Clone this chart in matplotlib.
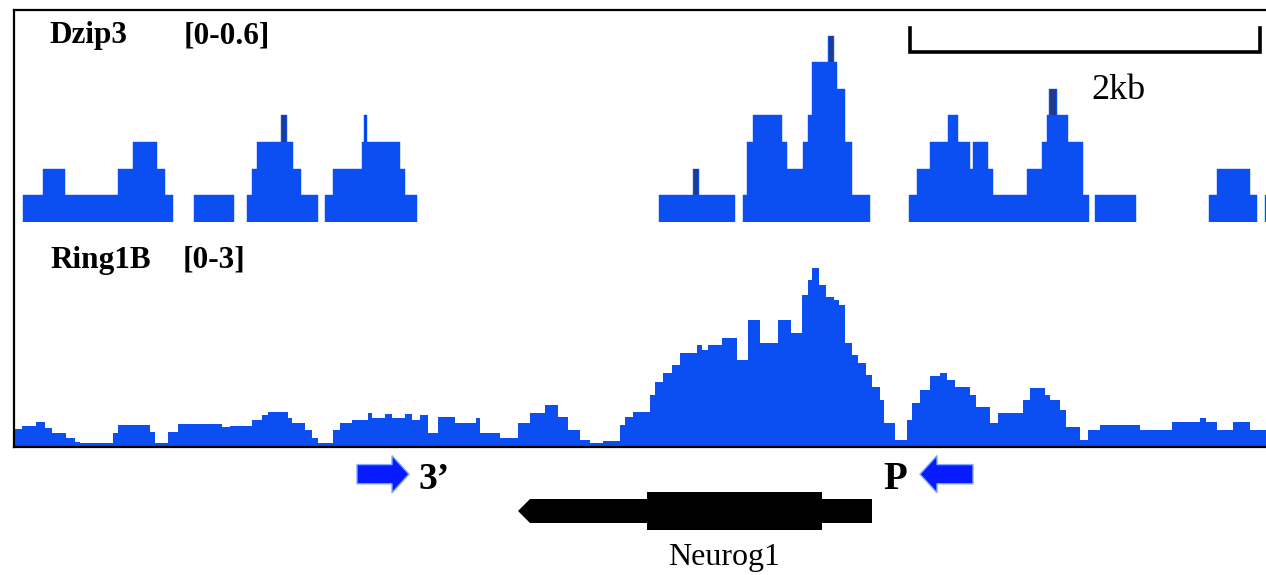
import matplotlib.pyplot as plt
from matplotlib.patches import Polygon, Rectangle

plt.rcParams['font.family'] = 'serif'
plt.rcParams['font.serif'] = ['Liberation Serif', 'DejaVu Serif']

W, H = 1266, 575

# genome window in bins (350 bins = 2 kb)
BP_PER_BIN = 2000 / 350
window_bins = 1252

# Dzip3 [0-0.6] binned signal
dz_start = [9, 29, 51, 104, 119, 143, 151,
            180,
            233, 238, 243, 267, 273, 279, 287,
            311, 319, 348, 350, 353, 386, 391,
            645, 679, 685,
            729, 733, 739, 768, 773, 789, 794, 798, 814, 820, 823, 831, 838,
            895, 903, 916, 934, 944, 956, 959, 974, 979, 1013, 1028, 1033, 1035, 1043, 1054, 1069,
            1081,
            1195, 1203, 1236,
            1251]
dz_end = [29, 51, 104, 119, 143, 151, 159,
          220,
          238, 243, 267, 273, 279, 287, 304,
          319, 348, 350, 353, 386, 391, 403,
          679, 685, 721,
          733, 739, 768, 773, 789, 794, 798, 814, 820, 823, 831, 838, 856,
          903, 916, 934, 944, 956, 959, 974, 979, 1013, 1028, 1033, 1035, 1043, 1054, 1069, 1075,
          1122,
          1203, 1236, 1243,
          1266]
dz_value = [0.075, 0.15, 0.075, 0.15, 0.225, 0.15, 0.075,
            0.075,
            0.075, 0.15, 0.225, 0.3, 0.225, 0.15, 0.075,
            0.075, 0.15, 0.225, 0.3, 0.225, 0.15, 0.075,
            0.075, 0.15, 0.075,
            0.075, 0.225, 0.3, 0.225, 0.15, 0.225, 0.3, 0.45, 0.525, 0.45, 0.375, 0.225, 0.075,
            0.075, 0.15, 0.225, 0.3, 0.225, 0.15, 0.225, 0.15, 0.075, 0.15, 0.225, 0.3, 0.375, 0.3, 0.225, 0.075,
            0.075,
            0.075, 0.15, 0.075,
            0.075]

# Ring1B [0-3] step profile: bin where each step starts, and its value
rb_edges = [0, 8, 22, 31, 38, 52, 61, 66, 99, 104, 136, 141, 154, 164, 208, 216,
            238, 248, 254, 274, 278, 291, 298, 304, 319, 326, 338, 354, 358, 371, 378,
            391, 398, 406, 414, 424, 441, 462, 466, 486, 504, 516, 531, 544, 554, 566,
            576, 589, 606, 611, 619, 636, 641, 649, 658, 666, 683, 688, 694, 708, 723,
            734, 746, 764, 777, 788, 794, 798, 805, 812, 820, 825, 831, 838, 844, 852,
            858, 866, 870, 881, 893, 898, 906, 916, 926, 933, 941, 956, 962, 976, 984,
            1009, 1016, 1031, 1036, 1046, 1052, 1066, 1074, 1086, 1126, 1158, 1186, 1192,
            1203, 1219, 1236]
rb_value = [0.20, 0.24, 0.30, 0.21, 0.14, 0.07, 0.01, 0.0, 0.14, 0.26, 0.16, 0.0, 0.16, 0.27, 0.23, 0.24,
            0.33, 0.40, 0.44, 0.36, 0.29, 0.19, 0.07, 0.0, 0.19, 0.29, 0.33, 0.43, 0.36, 0.41, 0.36,
            0.41, 0.33, 0.40, 0.14, 0.37, 0.29, 0.36, 0.14, 0.07, 0.29, 0.43, 0.54, 0.37, 0.19, 0.04,
            0.0, 0.02, 0.26, 0.37, 0.44, 0.69, 0.87, 1.00, 1.11, 1.29, 1.40, 1.33, 1.40, 1.50, 1.19,
            1.76, 1.43, 1.76, 1.57, 2.11, 2.33, 2.50, 2.26, 2.09, 2.04, 1.97, 1.43, 1.26, 1.14, 0.97,
            0.80, 0.61, 0.29, 0.04, 0.33, 0.57, 0.76, 0.96, 1.00, 0.90, 0.80, 0.69, 0.51, 0.29, 0.43,
            0.61, 0.79, 0.69, 0.61, 0.47, 0.23, 0.04, 0.19, 0.26, 0.19, 0.30, 0.36, 0.30,
            0.19, 0.30, 0.19]

# Neurog1 gene model (bins), minus strand
gene_start, gene_end = 504, 858
cds_start, cds_end = 633, 808

# primer pairs
primer_names = ['3’', 'P']
primer_tail = [343, 959]
primer_tip = [395, 906]

scale_start = 896
scale_bp = 2000

blue = '#0b4ef2'
dark = '#1d3c8c'


def box(x0, y0, x1, y1):
    return [x0 / W, 1 - y1 / H, (x1 - x0) / W, (y1 - y0) / H]


fig = plt.figure(figsize=(W / 100, H / 100), dpi=100)

# Dzip3 track
ax_dz = fig.add_axes(box(14, 9, 1266, 222))
ax_dz.set_xlim(0, window_bins)
ax_dz.set_ylim(0, 0.6)
ax_dz.axis('off')
widths = [e - s for s, e in zip(dz_start, dz_end)]
ax_dz.bar(dz_start, dz_value, width=widths, align='edge', color=blue,
          edgecolor=blue, linewidth=0.3)
# thin spikes look darker on top
for i in range(1, len(dz_value) - 1):
    if widths[i] <= 8 and dz_start[i] == dz_end[i - 1] and dz_end[i] == dz_start[i + 1]:
        base = max(dz_value[i - 1], dz_value[i + 1])
        if dz_value[i] > base:
            ax_dz.bar(dz_start[i] + 1, dz_value[i] - base, bottom=base, width=widths[i] - 2,
                      align='edge', color=dark, linewidth=0)

ax_dz.text(36, 0.504, 'Dzip3', fontsize=22.5, fontweight='bold', va='baseline')
ax_dz.text(170, 0.504, '[0-0.6]', fontsize=22.5, fontweight='bold', va='baseline')

# scale bar
scale_len = scale_bp / BP_PER_BIN
ax_dz.plot([scale_start, scale_start, scale_start + scale_len, scale_start + scale_len],
           [0.546, 0.479, 0.479, 0.546], color='black', lw=2.6, solid_joinstyle='miter',
           clip_on=False)
ax_dz.text(1077, 0.346, '2kb', fontsize=26, va='baseline', ha='left')

# Ring1B track
ax_rb = fig.add_axes(box(14, 233, 1266, 447))
ax_rb.set_xlim(0, window_bins)
ax_rb.set_ylim(-0.06, 3.0)
ax_rb.axis('off')
edges = rb_edges + [window_bins]
vals = rb_value + [rb_value[-1]]
ax_rb.fill_between(edges, vals, -0.06, step='post', color=blue, linewidth=0)
ax_rb.text(36, 2.5, 'Ring1B', fontsize=22.5, fontweight='bold', va='baseline')
ax_rb.text(169, 2.5, '[0-3]', fontsize=22.5, fontweight='bold', va='baseline')

# gene model and primers
ax_g = fig.add_axes(box(14, 447, 1266, 575))
ax_g.set_xlim(0, window_bins)
ax_g.set_ylim(-2, 2)
ax_g.axis('off')
ax_g.add_patch(Polygon([(gene_start, 0), (gene_start + 12, 0.375), (gene_end, 0.375),
                        (gene_end, -0.375), (gene_start + 12, -0.375)],
                       closed=True, color='black', lw=0))
ax_g.add_patch(Rectangle((cds_start, -0.58), cds_end - cds_start, 1.16, color='black', lw=0))
ax_g.text(710, -1.69, 'Neurog1', fontsize=23, ha='center', va='baseline')

for name, tail, tip in zip(primer_names, primer_tail, primer_tip):
    ax_g.arrow(tail, 1.15, tip - tail, 0, width=0.6, head_width=1.16, head_length=17,
               length_includes_head=True, fc='#0a1aff', ec='#7fa8ff', lw=1)
    if tip > tail:
        ax_g.text(tip + 9, 0.7, name, fontsize=27, fontweight='bold', ha='left', va='baseline')
    else:
        ax_g.text(tip - 13, 0.7, name, fontsize=28, fontweight='bold', ha='right', va='baseline')

# outer frame
ax_f = fig.add_axes(box(14, 10, 1266, 447))
ax_f.set_facecolor('none')
ax_f.set_xticks([])
ax_f.set_yticks([])
ax_f.spines['right'].set_visible(False)
for s in ['left', 'top', 'bottom']:
    ax_f.spines[s].set_linewidth(1.6)

fig.savefig('out.png', dpi=100)
